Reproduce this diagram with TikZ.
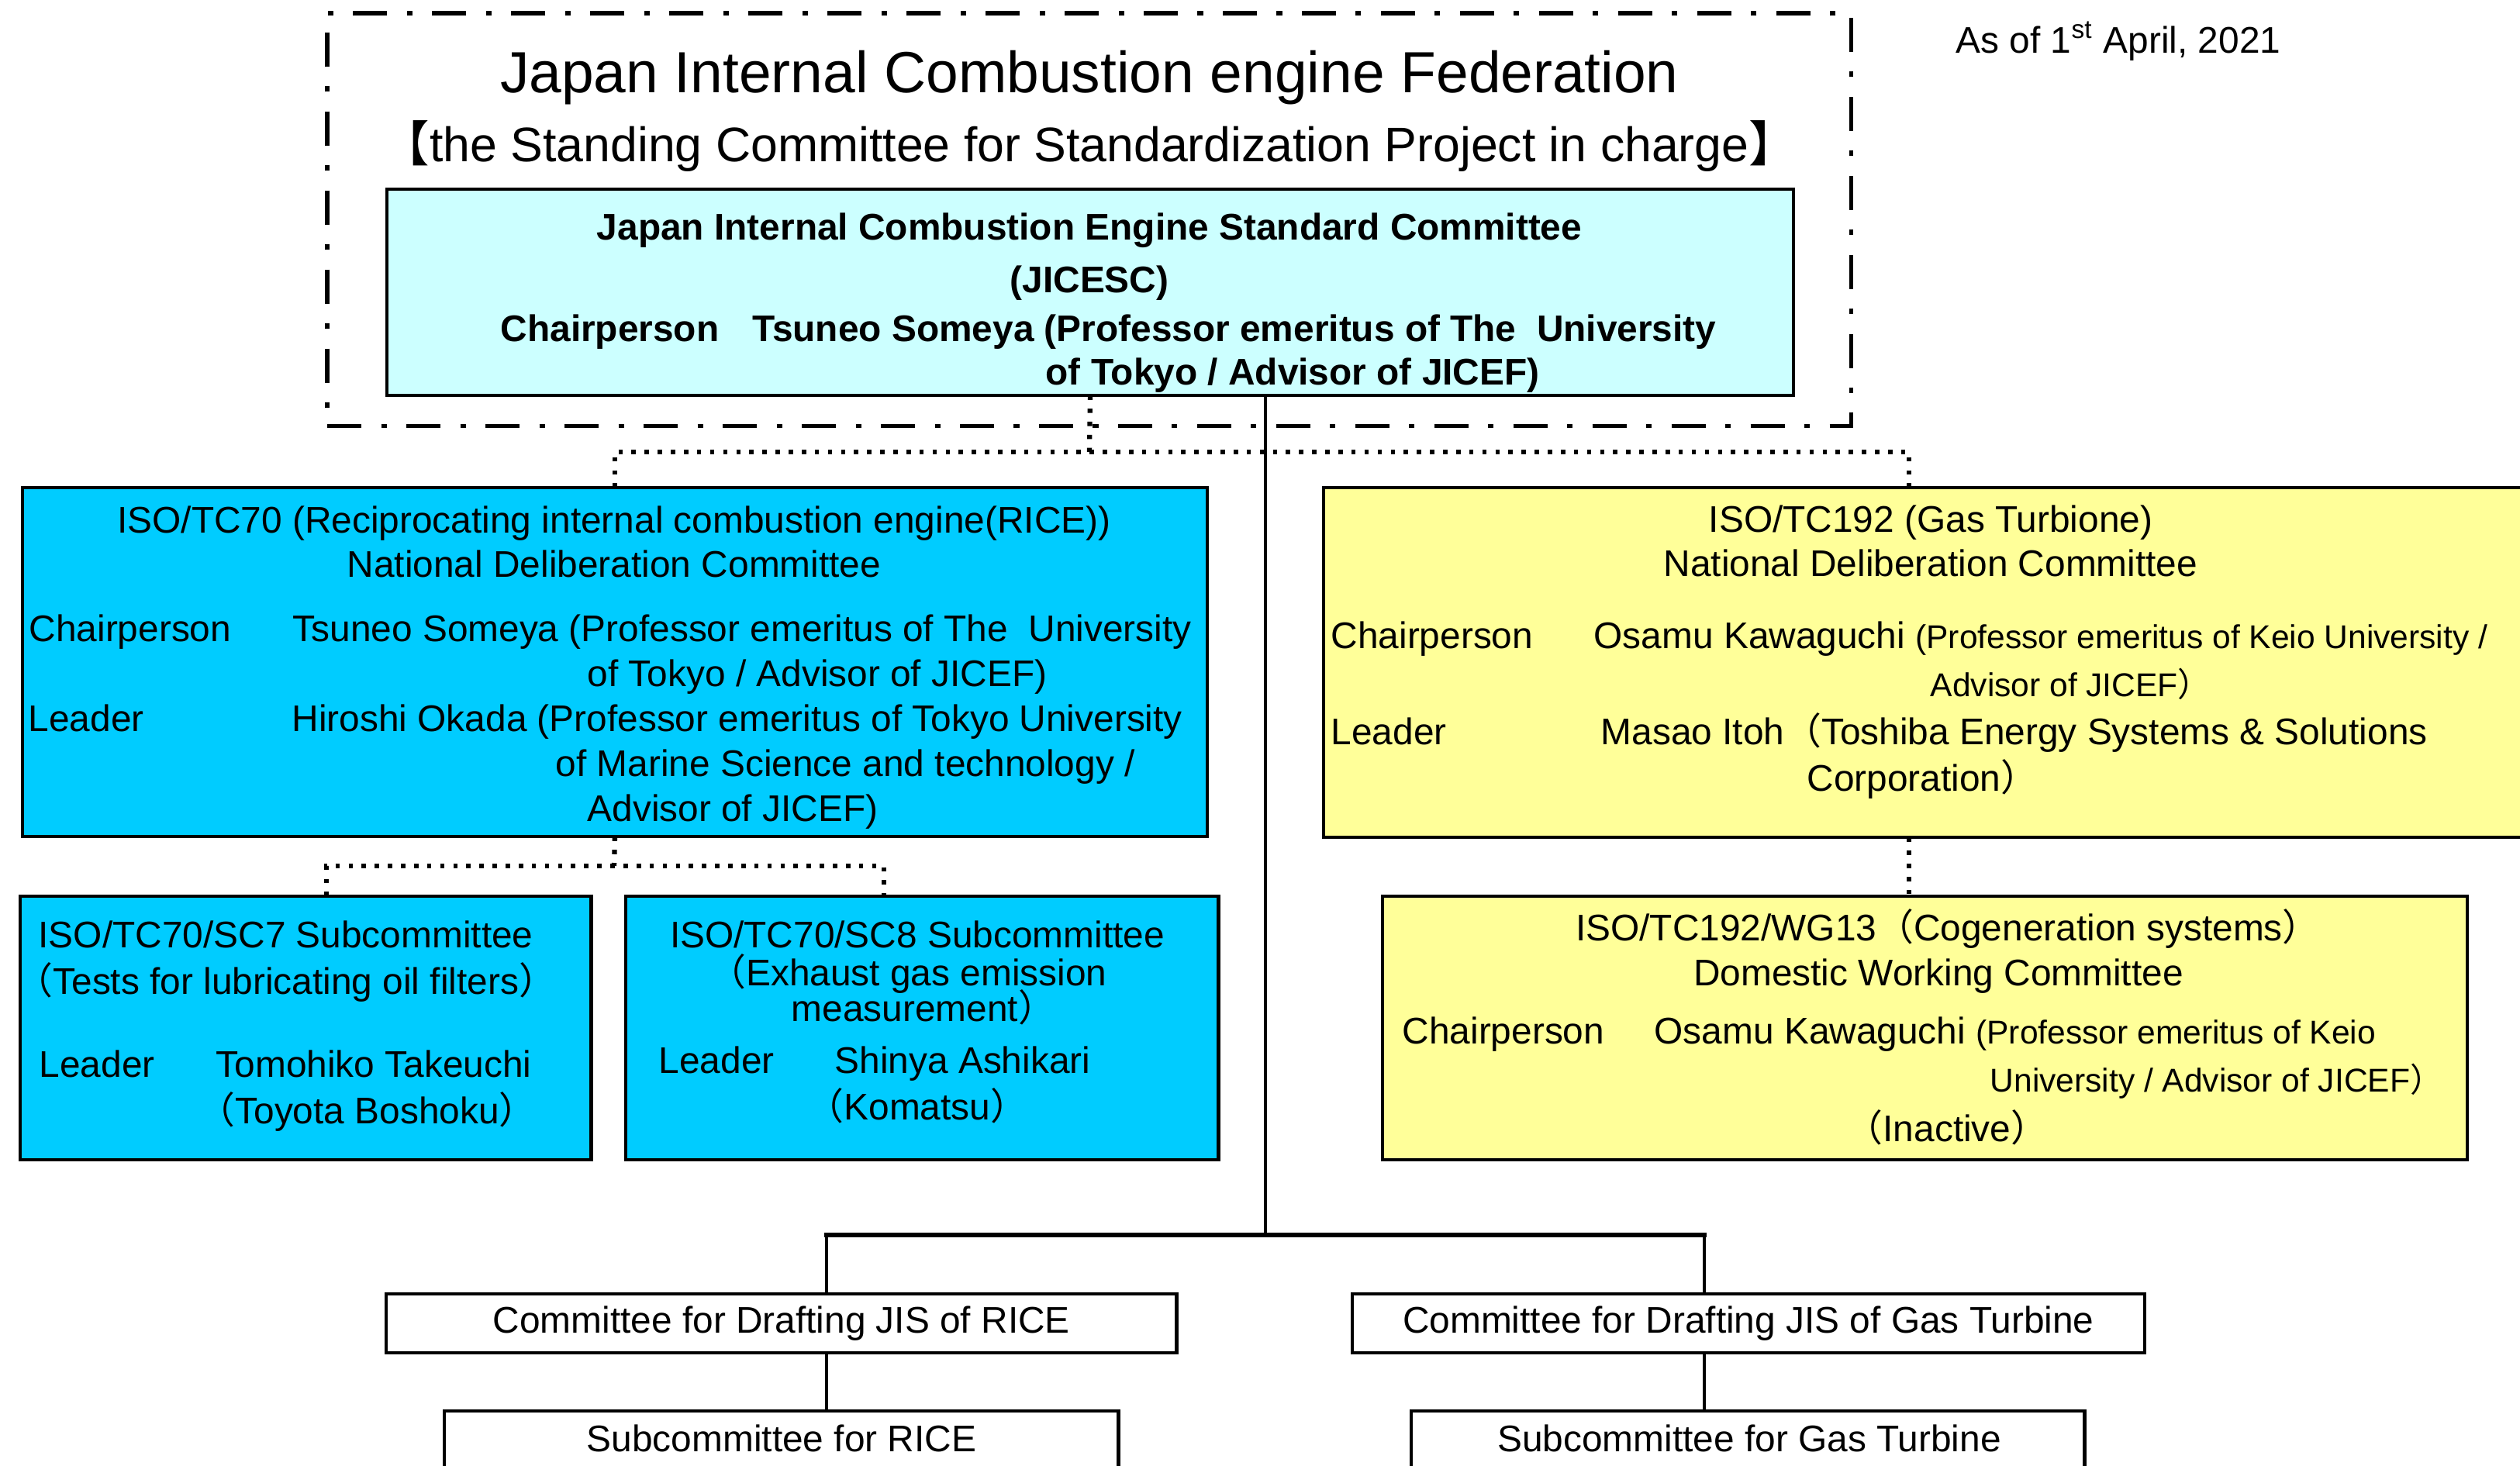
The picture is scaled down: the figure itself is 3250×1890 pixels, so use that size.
\documentclass[tikz,border=0pt]{standalone}
\usepackage{fontspec}
\setmainfont{Liberation Sans}
\newfontfamily\cjk{Noto Sans CJK JP}
\usepackage{tikz}

\definecolor{jicesccyan}{HTML}{CCFFFF}
\definecolor{tcblue}{HTML}{00CCFF}
\definecolor{gtyellow}{HTML}{FFFF99}

\newcommand{\bodysize}{\fontsize{13.6}{16}\selectfont}
\newcommand{\smallsize}{\fontsize{12.1}{14}\selectfont}
\newcommand{\zlp}{{\cjk （}}
\newcommand{\zrp}{{\cjk ）}}
\newcommand{\zlbk}{{\cjk 【}}
\newcommand{\zrbk}{{\cjk 】}}

\begin{document}
\begin{tikzpicture}[x=0.01cm,y=-0.01cm,
	orgbox/.style={draw, line width=1.2pt, inner sep=0pt, outer sep=0pt, anchor=north west},
	txt/.style={inner sep=0pt, anchor=base west, font=\bodysize},
	ctxt/.style={inner sep=0pt, anchor=base, font=\bodysize},
	dotline/.style={line width=1.8pt, dash pattern=on 1.6pt off 3.2pt},
	link/.style={line width=1pt},
	bar/.style={line width=1.6pt, line cap=rect}]

	\fill[white] (0,0) rectangle (3250,1890);
	\useasboundingbox (0,0) rectangle (3250,1890);

	% Federation frame and JICESC
	\node[orgbox, line width=1.5pt, dash pattern=on 12.6pt off 7.2pt on 2pt off 7.2pt, minimum width=19.64cm, minimum height=5.32cm] (jicef) at (422,17) {};
	\node[orgbox, fill=jicesccyan, minimum width=18.13cm, minimum height=2.66cm] (jicesc) at (499,244) {};

	\node[ctxt, font=\fontsize{21.3}{25}\selectfont] (title) at (1405,119) {Japan Internal Combustion engine Federation};
	\node[ctxt, font=\fontsize{17.8}{21}\selectfont] (charge) at (1405,208) {\zlbk the Standing Committee for Standardization Project in charge\zrbk};
	\node[txt] (asof) at (2522,68) {As of 1\textsuperscript{st} April, 2021};

	\node[ctxt, font=\bodysize\bfseries] (jname) at (1405,309) {Japan Internal Combustion Engine Standard Committee};
	\node[ctxt, font=\bodysize\bfseries] (jabbr) at (1405,377) {(JICESC)};
	\node[txt, font=\bodysize\bfseries] (jchair) at (645,440) {Chairperson\hspace{0.9em}Tsuneo Someya (Professor emeritus of The\ \ University};
	\node[txt, font=\bodysize\bfseries] (jchairb) at (1348,496) {of Tokyo / Advisor of JICEF)};

	% ISO/TC70 side
	\node[orgbox, fill=tcblue, minimum width=15.27cm, minimum height=4.50cm] (tc70) at (29,629) {};
	\node[ctxt] (tc70a) at (792,687) {ISO/TC70 (Reciprocating internal combustion engine(RICE))};
	\node[ctxt] (tc70b) at (792,744) {National Deliberation Committee};
	\node[txt] (tc70c) at (37,827) {Chairperson};
	\node[txt] (tc70d) at (377,827) {Tsuneo Someya (Professor emeritus of The\ \ University};
	\node[txt] (tc70e) at (757,885) {of Tokyo / Advisor of JICEF)};
	\node[txt] (tc70f) at (36,943) {Leader};
	\node[txt] (tc70g) at (376,943) {Hiroshi Okada (Professor emeritus of Tokyo University};
	\node[txt] (tc70h) at (716,1001) {of Marine Science and technology /};
	\node[txt] (tc70i) at (757,1059) {Advisor of JICEF)};

	\node[orgbox, fill=tcblue, minimum width=7.36cm, minimum height=3.40cm] (sc7) at (26,1156) {};
	\node[txt] (sc7a) at (49,1222) {ISO/TC70/SC7 Subcommittee};
	\node[txt] (sc7b) at (20,1282) {\zlp Tests for lubricating oil filters\zrp};
	\node[txt] (sc7c) at (50,1389) {Leader};
	\node[txt] (sc7d) at (278,1389) {Tomohiko Takeuchi};
	\node[txt] (sc7e) at (255,1449) {\zlp Toyota Boshoku\zrp};

	\node[orgbox, fill=tcblue, minimum width=7.64cm, minimum height=3.40cm] (sc8) at (807,1156) {};
	\node[ctxt] (sc8a) at (1183,1222) {ISO/TC70/SC8 Subcommittee};
	\node[ctxt] (sc8b) at (1171,1271) {\zlp Exhaust gas emission};
	\node[ctxt] (sc8c) at (1191,1317) {measurement\zrp};
	\node[txt] (sc8d) at (849,1384) {Leader};
	\node[txt] (sc8e) at (1076,1384) {Shinya Ashikari};
	\node[txt] (sc8f) at (1040,1444) {\zlp Komatsu\zrp};

	% ISO/TC192 side
	\node[orgbox, fill=gtyellow, minimum width=16cm, minimum height=4.51cm] (tc192) at (1707,629) {};
	\node[ctxt] (tc192a) at (2490,686) {ISO/TC192 (Gas Turbione)};
	\node[ctxt] (tc192b) at (2490,743) {National Deliberation Committee};
	\node[txt] (tc192c) at (1716,836) {Chairperson};
	\node[txt] (tc192d) at (2055,836) {Osamu Kawaguchi {\smallsize (Professor emeritus of Keio University /}};
	\node[txt, font=\smallsize] (tc192e) at (2489,898) {Advisor of JICEF\zrp};
	\node[txt] (tc192f) at (1716,960) {Leader};
	\node[txt] (tc192g) at (2064,960) {Masao Itoh\zlp Toshiba Energy Systems \& Solutions};
	\node[txt] (tc192h) at (2330,1020) {Corporation\zrp};

	\node[orgbox, fill=gtyellow, minimum width=13.98cm, minimum height=3.40cm] (wg13) at (1783,1156) {};
	\node[ctxt] (wg13a) at (2512,1213) {ISO/TC192/WG13\zlp Cogeneration systems\zrp};
	\node[ctxt] (wg13b) at (2500,1271) {Domestic Working Committee};
	\node[txt] (wg13c) at (1808,1346) {Chairperson};
	\node[txt] (wg13d) at (2133,1346) {Osamu Kawaguchi {\smallsize (Professor emeritus of Keio}};
	\node[txt, font=\smallsize] (wg13e) at (2566,1408) {University / Advisor of JICEF\zrp};
	\node[ctxt] (wg13f) at (2511,1472) {\zlp Inactive\zrp};

	% JIS drafting committees
	\node[orgbox, font=\bodysize, minimum width=10.19cm, minimum height=0.76cm] (jisrice) at (498,1669) {Committee for Drafting JIS of RICE};
	\node[orgbox, font=\bodysize, minimum width=10.21cm, minimum height=0.76cm] (jisgt) at (1744,1669) {Committee for Drafting JIS of Gas Turbine};
	\node[orgbox, minimum width=8.69cm, minimum height=1.4cm] (subrice) at (573,1820) {};
	\node[orgbox, minimum width=8.68cm, minimum height=1.4cm] (subgt) at (1820,1820) {};
	\node[ctxt] (subricet) at (1008,1872) {Subcommittee for RICE};
	\node[ctxt] (subgtt) at (2256,1872) {Subcommittee for Gas Turbine};

	% Dotted links
	\coordinate (dotbar) at (1405,583);
	\coordinate (gtdrop) at (2462,583);
	\coordinate (scbar) at (792,1117);
	\coordinate (sc7drop) at (421,1156);
	\coordinate (sc8drop) at (1140,1156);
	\draw[dotline] (jicesc.south) -- (dotbar);
	\draw[dotline] (tc70.north) |- (dotbar) -- (gtdrop) -- (gtdrop |- tc192.north);
	\draw[dotline] (gtdrop |- tc192.south) -- (gtdrop |- wg13.north);
	\draw[dotline] (tc70.south) -- (scbar);
	\draw[dotline] (sc7drop) |- (scbar) -| (sc8drop);

	% Solid links
	\coordinate (spine) at (1632,1593);
	\coordinate (barL) at (1066,1593);
	\coordinate (barR) at (2198,1593);
	\draw[link] (jicesc.south -| spine) -- (spine);
	\draw[bar] (barL) -- (barR);
	\draw[link] (barL) -- (barL |- jisrice.north);
	\draw[link] (barR) -- (barR |- jisgt.north);
	\draw[link] (barL |- jisrice.south) -- (barL |- subrice.north);
	\draw[link] (barR |- jisgt.south) -- (barR |- subgt.north);

\end{tikzpicture}
\end{document}
